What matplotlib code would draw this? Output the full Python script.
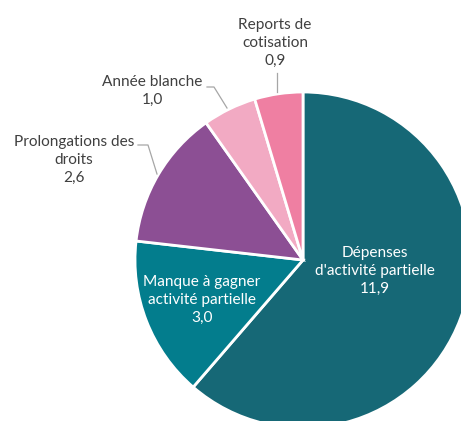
import matplotlib
matplotlib.use("Agg")
import matplotlib.pyplot as plt

LABELS = ["Dépenses\nd'activité partielle", "Manque à gagner\nactivité partielle",
          "Prolongations des\ndroits", "Année blanche", "Reports de\ncotisation"]
VALUES = [11.9, 3.0, 2.6, 1.0, 0.9]
COLORS = ["#166876", "#037d8d", "#8c4f94", "#f2aac3", "#ef7fa2"]

# pie geometry in pixels of the 461x421 canvas
CX, CY, R = 303, 260, 168
W, H = 461, 421


def px(x, y):
    return (x - CX) / R, (CY - y) / R


def main():
    plt.rcParams["font.family"] = ["Lato", "DejaVu Sans"]
    fig = plt.figure(figsize=(W / 100, H / 100), dpi=100)
    ax = fig.add_axes([0, 0, 1, 1])
    ax.pie(VALUES, colors=COLORS, startangle=90, counterclock=False, radius=1,
           wedgeprops=dict(edgecolor="white", linewidth=2))
    ax.set_xlim(-CX / R, (W - CX) / R)
    ax.set_ylim(-(H - CY) / R, CY / R)
    ax.set_aspect("equal")
    ax.axis("off")

    fmt = lambda v: f"{v:.1f}".replace(".", ",")
    # label centres (pixels) and text colour
    spots = [(375, 271, "white"), (202, 300, "white"), (74, 160, "#404040"),
             (152, 91, "#404040"), (275, 43, "#404040")]
    for lab, val, (x, y, c) in zip(LABELS, VALUES, spots):
        ax.text(*px(x, y), f"{lab}\n{fmt(val)}", ha="center", va="center",
                color=c, fontsize=11.1, linespacing=1.38)

    leaders = [
        [(277, 73), (277, 92)],
        [(207, 87), (214, 87), (227, 108)],
        [(138, 145), (148, 145), (157, 174)],
    ]
    for pts in leaders:
        xs, ys = zip(*[px(x, y) for x, y in pts])
        ax.plot(xs, ys, color="#a6a6a6", linewidth=0.9)

    fig.savefig("out.png", dpi=100)
    plt.close(fig)


if __name__ == "__main__":
    main()
